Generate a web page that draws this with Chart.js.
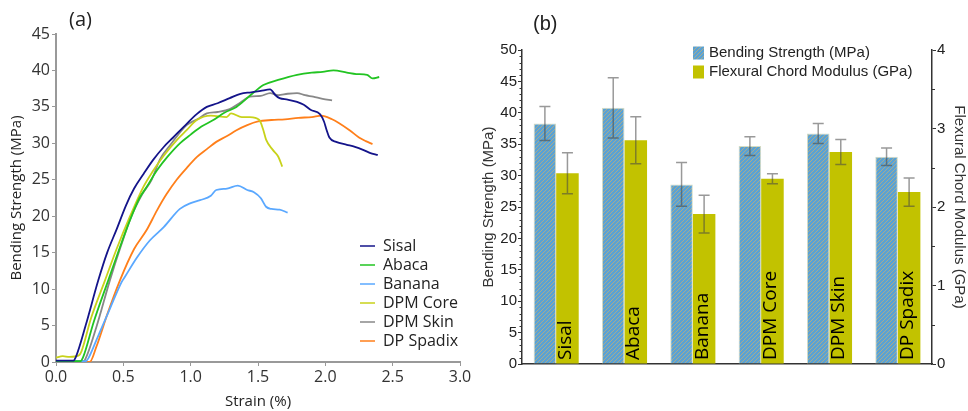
<!DOCTYPE html>
<html lang="en">
<head>
<meta charset="UTF-8">
<title>Bending strength of natural fibres</title>
<script src="https://cdn.jsdelivr.net/npm/chart.js"></script>
<style>
  body { margin: 0; background: #fff; }
  #wrap { position: relative; width: 968px; height: 411px; }
  #chartA { position: absolute; left: 0; top: 0; }
  #chartB { position: absolute; left: 480px; top: 0; }
</style>
</head>
<body>
<div id="wrap">
  <canvas id="chartA" width="480" height="411"></canvas>
  <canvas id="chartB" width="488" height="411"></canvas>
</div>
<script>
// ---- (a) bending stress vs strain ----
const sisalStrain = [0, 0.13, 0.15, 0.22, 0.314, 0.38, 0.45, 0.52, 0.58, 0.65, 0.72, 0.8, 0.87, 0.95, 1.045, 1.12, 1.2, 1.29, 1.37, 1.45, 1.52, 1.59, 1.63, 1.66, 1.72, 1.79, 1.84, 1.89, 1.96, 1.99, 2.01, 2.03, 2.08, 2.16, 2.22, 2.28, 2.33, 2.39];
const sisalStress = [0.2, 0.2, 0.8, 5, 11.2, 15, 18.2, 21.5, 23.8, 25.8, 27.7, 29.5, 30.8, 32.3, 34.0, 35.0, 35.5, 36.2, 36.8, 37.0, 37.2, 37.4, 36.6, 36.2, 36.0, 35.7, 35.3, 34.6, 34.0, 33.0, 31.8, 30.8, 30.2, 29.8, 29.5, 29.1, 28.7, 28.4];

const abacaStrain = [0, 0.18, 0.2, 0.28, 0.388, 0.47, 0.55, 0.62, 0.673, 0.75, 0.83, 0.92, 1.0, 1.08, 1.168, 1.25, 1.34, 1.45, 1.54, 1.65, 1.79, 1.9, 1.98, 2.06, 2.16, 2.23, 2.31, 2.35, 2.4];
const abacaStress = [0.1, 0.1, 0.6, 5.5, 11.2, 15.5, 19.5, 22.5, 24.0, 26.3, 28.2, 30.0, 31.2, 32.3, 33.2, 34.2, 35.0, 36.7, 38.0, 38.7, 39.4, 39.7, 39.8, 40.0, 39.7, 39.5, 39.4, 38.9, 39.1];

const bananaStrain = [0, 0.22, 0.24, 0.3, 0.4, 0.488, 0.512, 0.6, 0.698, 0.8, 0.92, 1.0, 1.07, 1.15, 1.19, 1.27, 1.35, 1.42, 1.47, 1.52, 1.56, 1.6, 1.66, 1.72];
const bananaStress = [0.1, 0.1, 0.5, 3.0, 7.3, 11.0, 11.7, 14.3, 16.7, 18.5, 21.0, 21.8, 22.2, 22.8, 23.6, 23.8, 24.2, 23.6, 23.3, 22.5, 21.3, 21.0, 20.9, 20.5];

const coreStrain = [0, 0.05, 0.1, 0.17, 0.19, 0.26, 0.364, 0.45, 0.55, 0.648, 0.72, 0.8, 0.9, 0.97, 1.045, 1.15, 1.267, 1.3, 1.38, 1.44, 1.51, 1.54, 1.56, 1.61, 1.65, 1.68];
const coreStress = [0.6, 0.8, 0.7, 0.9, 1.5, 6, 11.2, 15.5, 20, 24.0, 26.2, 28.3, 30.5, 31.8, 33.2, 33.8, 33.6, 34.1, 33.6, 33.6, 33.2, 31.8, 30.5, 29.1, 28.2, 26.8];

const skinStrain = [0, 0.2, 0.215, 0.3, 0.40, 0.48, 0.56, 0.64, 0.71, 0.772, 0.85, 0.97, 1.05, 1.12, 1.2, 1.29, 1.37, 1.44, 1.52, 1.59, 1.65, 1.72, 1.79, 1.85, 1.91, 1.98, 2.05];
const skinStress = [0.1, 0.1, 0.3, 4.8, 11.2, 15.8, 20.0, 23.0, 25.0, 27.8, 29.8, 32.5, 33.3, 34.1, 34.3, 34.7, 35.6, 36.4, 36.5, 36.9, 36.6, 36.8, 36.9, 36.6, 36.4, 36.1, 35.9];

const spadixStrain = [0, 0.25, 0.3, 0.38, 0.475, 0.58, 0.673, 0.75, 0.82, 0.896, 0.97, 1.045, 1.12, 1.19, 1.27, 1.34, 1.42, 1.5, 1.6, 1.7, 1.8, 1.9, 1.97, 2.05, 2.1, 2.18, 2.25, 2.3, 2.35];
const spadixStress = [0, 0, 2.1, 6.5, 11.2, 15.5, 18.1, 20.8, 23.0, 25.0, 26.6, 28.1, 29.2, 30.2, 31.0, 31.8, 32.5, 33.0, 33.2, 33.3, 33.5, 33.6, 33.8, 33.3, 32.8, 31.8, 30.8, 30.3, 29.9];

const fibreNames = ['Sisal', 'Abaca', 'Banana', 'DPM Core', 'DPM Skin', 'DP Spadix'];
const lineColors = ['#14148a', '#22c422', '#5aa8ff', '#c8d21a', '#888888', '#ff7f1a'];

// ---- (b) mean values with error bars ----
const strengthMean = [38.3, 40.8, 28.6, 34.7, 36.7, 33.0];
const strengthErr = [2.7, 4.8, 3.5, 1.5, 1.6, 1.4];
const modulusMean = [2.43, 2.85, 1.91, 2.36, 2.70, 2.19];
const modulusErr = [0.26, 0.30, 0.24, 0.065, 0.16, 0.18];

function pts(xs, ys) {
  return xs.map((x, i) => ({ x: x, y: ys[i] }));
}

const curves = [
  pts(sisalStrain, sisalStress),
  pts(abacaStrain, abacaStress),
  pts(bananaStrain, bananaStress),
  pts(coreStrain, coreStress),
  pts(skinStrain, skinStress),
  pts(spadixStrain, spadixStress)
];

const legendA = {
  id: 'legendA',
  afterDraw(chart) {
    const ctx = chart.ctx;
    ctx.save();
    ctx.font = '16px "Open Sans"';
    ctx.textBaseline = 'middle';
    chart.data.datasets.forEach((ds, i) => {
      const y = 246 + i * 19;
      ctx.strokeStyle = ds.borderColor;
      ctx.lineWidth = 1.5;
      ctx.beginPath();
      ctx.moveTo(360, y);
      ctx.lineTo(375, y);
      ctx.stroke();
      ctx.fillStyle = '#222';
      ctx.fillText(ds.label, 383, y);
    });
    ctx.font = '20px "Open Sans"';
    ctx.fillText('(a)', 69, 20);
    ctx.restore();
  }
};

new Chart(document.getElementById('chartA'), {
  type: 'line',
  data: {
    datasets: curves.map((c, i) => ({
      label: fibreNames[i],
      data: c,
      borderColor: lineColors[i],
      borderWidth: 1.8,
      pointRadius: 0,
      cubicInterpolationMode: 'monotone'
    }))
  },
  options: {
    responsive: false,
    animation: false,
    layout: { padding: { top: 34, right: 20, left: 0, bottom: 0 } },
    plugins: { legend: { display: false }, tooltip: { enabled: false } },
    scales: {
      x: {
        type: 'linear', min: 0, max: 3,
        ticks: { stepSize: 0.5, padding: 2, color: '#333', font: { family: 'Open Sans', size: 16 },
          callback: v => v.toFixed(1) },
        grid: { drawOnChartArea: false, tickLength: 4, color: '#999' },
        border: { color: '#999', width: 2 },
        title: { display: true, text: 'Strain (%)', color: '#222', font: { family: 'Open Sans', size: 15 },
          padding: { top: 0, bottom: 0 } },
        afterFit: s => { s.height = 49; }
      },
      y: {
        min: 0, max: 45,
        ticks: { stepSize: 5, padding: 2, color: '#333', font: { family: 'Open Sans', size: 16 } },
        grid: { drawOnChartArea: false, tickLength: 4, color: '#999' },
        border: { color: '#999', width: 2 },
        title: { display: true, text: 'Bending Strength (MPa)', color: '#222', font: { family: 'Open Sans', size: 15 },
          padding: { top: 8, bottom: 0 } },
        afterFit: s => { s.width = 56; }
      }
    }
  },
  plugins: [legendA]
});

// hatched fill for the strength bars
function hatch() {
  const c = document.createElement('canvas');
  c.width = 4; c.height = 4;
  const g = c.getContext('2d');
  g.fillStyle = '#5aa2d4';
  g.fillRect(0, 0, 4, 4);
  g.fillStyle = '#a6ab90';
  for (let i = 0; i < 4; i++) g.fillRect(i, 3 - i, 1, 1);
  return g.createPattern(c, 'repeat');
}
const hatchFill = hatch();

const extrasB = {
  id: 'extrasB',
  afterDatasetsDraw(chart) {
    const ctx = chart.ctx;
    const errs = [strengthErr, modulusErr];
    const axes = ['y', 'y1'];
    ctx.save();
    // error bars
    ctx.strokeStyle = 'rgba(70,70,70,0.55)';
    ctx.lineWidth = 1.5;
    chart.data.datasets.forEach((ds, d) => {
      const meta = chart.getDatasetMeta(d);
      const sc = chart.scales[axes[d]];
      meta.data.forEach((bar, i) => {
        const hi = sc.getPixelForValue(ds.data[i] + errs[d][i]);
        const lo = sc.getPixelForValue(ds.data[i] - errs[d][i]);
        ctx.beginPath();
        ctx.moveTo(bar.x, hi); ctx.lineTo(bar.x, lo);
        ctx.moveTo(bar.x - 5.5, hi); ctx.lineTo(bar.x + 5.5, hi);
        ctx.moveTo(bar.x - 5.5, lo); ctx.lineTo(bar.x + 5.5, lo);
        ctx.stroke();
      });
    });
    // category names inside the modulus bars
    const area = chart.chartArea;
    ctx.fillStyle = '#000';
    ctx.font = '19px "Open Sans"';
    ctx.textAlign = 'left';
    ctx.textBaseline = 'middle';
    chart.getDatasetMeta(1).data.forEach((bar, i) => {
      ctx.save();
      ctx.translate(bar.x - 2, area.bottom - 4);
      ctx.rotate(-Math.PI / 2);
      ctx.fillText(chart.data.labels[i], 0, 0);
      ctx.restore();
    });
    ctx.restore();
  },
  afterDraw(chart) {
    const ctx = chart.ctx;
    const yl = chart.scales.y, yr = chart.scales.y1;
    ctx.save();
    // minor ticks
    ctx.strokeStyle = '#333';
    ctx.lineWidth = 1;
    ctx.beginPath();
    for (let v = 1; v < 50; v++) {
      if (v % 5 === 0) continue;
      const p = Math.round(yl.getPixelForValue(v)) + 0.5;
      ctx.moveTo(yl.right - 2.5, p); ctx.lineTo(yl.right, p);
    }
    for (let v = 0.5; v < 4; v += 1) {
      const p = Math.round(yr.getPixelForValue(v)) + 0.5;
      ctx.moveTo(yr.left, p); ctx.lineTo(yr.left + 3, p);
    }
    ctx.stroke();
    // legend
    ctx.font = '15px "Liberation Sans"';
    ctx.textBaseline = 'middle';
    const fills = [hatchFill, '#c2c200'];
    chart.data.datasets.forEach((ds, i) => {
      const y = 53 + i * 19;
      ctx.fillStyle = fills[i];
      ctx.fillRect(213, y - 6.5, 11, 13);
      ctx.fillStyle = '#222';
      ctx.fillText(ds.label, 229, y);
    });
    ctx.font = '20px "Liberation Sans"';
    ctx.fillText('(b)', 53, 24);
    ctx.restore();
  }
};

const tickFontB = { family: 'Liberation Sans', size: 15 };

new Chart(document.getElementById('chartB'), {
  type: 'bar',
  data: {
    labels: fibreNames,
    datasets: [
      { label: 'Bending Strength (MPa)', data: strengthMean, backgroundColor: hatchFill,
        borderColor: '#d4dcc4', borderWidth: 1, yAxisID: 'y', categoryPercentage: 0.66, barPercentage: 1 },
      { label: 'Flexural Chord Modulus (GPa)', data: modulusMean, backgroundColor: '#c2c200',
        yAxisID: 'y1', categoryPercentage: 0.66, barPercentage: 1 }
    ]
  },
  options: {
    responsive: false,
    animation: false,
    layout: { padding: { top: 50, right: 0, left: 0, bottom: 0 } },
    plugins: { legend: { display: false }, tooltip: { enabled: false } },
    scales: {
      x: {
        grid: { display: false },
        ticks: { display: false },
        border: { color: '#333', width: 1.5 },
        afterFit: s => { s.height = 47; }
      },
      y: {
        position: 'left', min: 0, max: 50,
        ticks: { stepSize: 5, padding: 1, color: '#222', font: tickFontB },
        grid: { drawOnChartArea: false, tickLength: 4, color: '#333' },
        border: { color: '#333', width: 1.5 },
        title: { display: true, text: 'Bending Strength (MPa)', color: '#333', font: tickFontB,
          padding: { top: 0, bottom: 0 } },
        afterFit: s => { s.width = 42; }
      },
      y1: {
        position: 'right', min: 0, max: 4,
        ticks: { stepSize: 1, padding: 1, color: '#222', font: tickFontB },
        grid: { drawOnChartArea: false, tickLength: 4, color: '#333' },
        border: { color: '#333', width: 1.5 },
        title: { display: true, text: 'Flexural Chord Modulus (GPa)', color: '#333', font: tickFontB,
          padding: { top: 0, bottom: 0 } },
        afterFit: s => { s.width = 36; }
      }
    }
  },
  plugins: [extrasB]
});
</script>
</body>
</html>
